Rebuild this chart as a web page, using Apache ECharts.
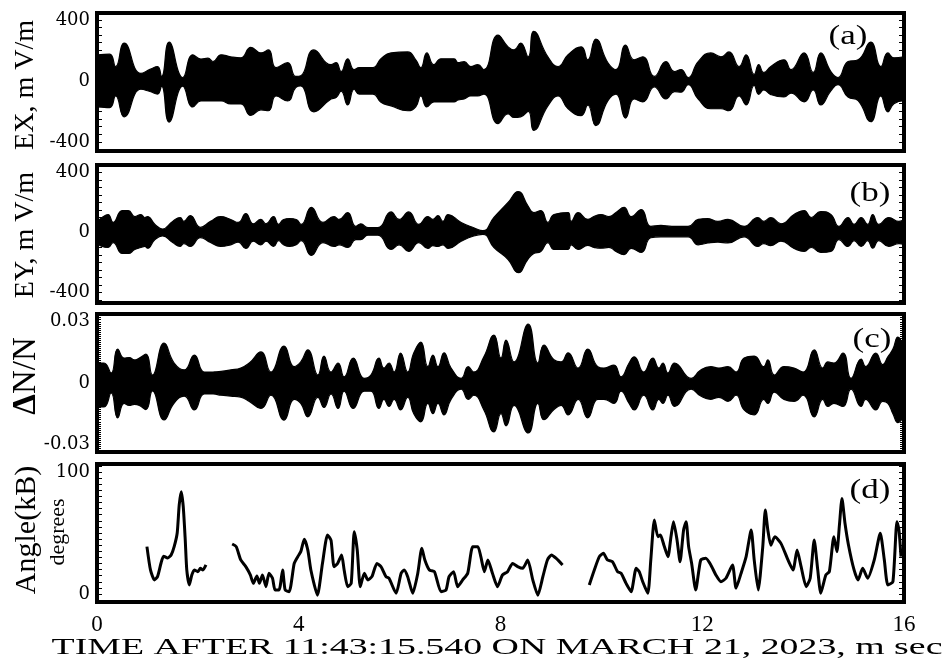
<!DOCTYPE html>
<html><head><meta charset="utf-8">
<script src="https://cdn.jsdelivr.net/npm/echarts@6/dist/echarts.min.js"></script>
<style>html,body{margin:0;padding:0;background:#fff}#c{width:948px;height:671px}</style>
</head><body><div id="c"></div>
<script>
// ---- Panel (a) EX envelope (time msec, upper / lower, mV/m) ----
const exT = [0,0.25,0.37,0.54,0.87,1.05,1.2,1.28,1.43,1.7,1.9,2.06,2.2,2.3,2.46,2.65,2.85,3.05,3.25,3.4,3.55,3.78,3.94,4.04,4.3,4.64,4.74,4.84,4.97,5.1,5.2,5.47,5.63,5.83,6.16,6.32,6.42,6.54,6.68,6.82,7.08,7.16,7.28,7.41,7.55,7.67,7.95,8.15,8.27,8.4,8.55,8.66,8.94,9.14,9.34,9.6,9.73,9.89,10.13,10.29,10.48,10.65,10.82,11.05,11.28,11.45,11.58,11.72,11.92,12.17,12.37,12.53,12.73,12.87,13.03,13.12,13.22,13.36,13.62,13.76,14.02,14.2,14.35,14.55,14.69,14.89,15.09,15.34,15.54,15.68,15.8,16];
const exHi = [170,175,94,248,49,75,94,30,254,22,171,143,149,127,171,158,151,220,183,203,87,119,29,33,203,106,119,61,145,74,87,87,145,183,190,138,87,183,106,145,145,119,126,94,106,74,300,223,203,248,158,325,158,94,171,223,138,274,119,74,235,138,158,29,126,61,74,22,126,183,158,190,94,171,42,106,55,94,138,74,183,55,183,61,22,126,138,254,94,183,151,158];
const exLo = [-170,-175,-99,-236,-55,-70,-87,-35,-270,-35,-171,-132,-132,-132,-132,-151,-151,-226,-190,-196,-99,-132,-44,-33,-203,-119,-110,-67,-158,-55,-87,-87,-140,-164,-196,-170,-99,-171,-138,-138,-138,-125,-119,-99,-99,-87,-280,-216,-240,-236,-200,-325,-164,-99,-183,-228,-160,-293,-130,-87,-244,-119,-138,-39,-119,-70,-74,-25,-120,-183,-183,-196,-99,-158,-29,-88,-60,-90,-106,-80,-138,-60,-158,-65,-25,-106,-130,-268,-99,-203,-150,-130];

// ---- Panel (b) EY envelope ----
const eyT = [0,0.1,0.22,0.32,0.5,0.62,0.75,0.87,0.95,1,1.15,1.3,1.5,1.65,1.72,1.85,2.05,2.25,2.45,2.65,2.8,2.95,3.1,3.25,3.35,3.5,3.6,3.7,3.82,3.95,4.05,4.25,4.48,4.7,4.8,4.97,5.13,5.23,5.37,5.57,5.83,5.99,6.18,6.38,6.56,6.66,6.76,6.86,6.96,7.22,7.47,7.65,7.87,8.15,8.35,8.55,8.66,8.8,8.94,9.06,9.34,9.4,9.54,9.73,9.85,9.99,10.15,10.29,10.45,10.59,10.79,10.98,11.18,11.4,11.72,11.92,12.11,12.31,12.51,12.83,13.1,13.22,13.36,13.56,13.82,14.02,14.16,14.35,14.55,14.71,14.89,15.01,15.15,15.28,15.38,15.5,15.7,15.9,16];
const eyHi = [70,100,120,67,146,146,106,120,100,106,54,23,74,100,74,113,34,74,106,87,67,126,58,87,58,106,54,87,93,87,54,167,67,106,87,133,41,58,32,32,137,87,137,54,106,87,113,74,120,67,32,12,100,200,273,175,133,146,67,120,133,74,133,87,106,120,106,133,167,106,153,41,47,41,41,87,93,74,87,41,100,74,100,58,120,146,100,140,120,41,100,54,100,54,120,54,100,74,87];
const eyLo = [-70,-93,-100,-67,-140,-140,-113,-100,-93,-105,-47,-23,-67,-93,-74,-93,-34,-67,-93,-82,-64,-106,-58,-82,-58,-93,-54,-82,-93,-82,-54,-153,-67,-93,-82,-100,-47,-47,-18,-18,-113,-82,-126,-67,-106,-88,-93,-82,-106,-58,-23,-12,-100,-180,-268,-175,-140,-126,-67,-113,-113,-82,-113,-86,-99,-105,-99,-126,-147,-106,-133,-35,-29,-29,-29,-82,-70,-64,-70,-29,-93,-74,-88,-58,-106,-126,-100,-133,-126,-47,-93,-54,-93,-54,-105,-54,-93,-74,-82];

// ---- Panel (c) dN/N envelope ----
const dnT = [0,0.14,0.28,0.41,0.54,0.64,0.74,0.84,0.97,1.1,1.33,1.53,1.73,1.93,2.13,2.3,2.46,2.65,2.85,3.02,3.25,3.45,3.71,3.91,4.04,4.18,4.38,4.5,4.64,4.78,4.9,5.08,5.3,5.43,5.59,5.69,5.79,5.89,6.02,6.16,6.28,6.42,6.56,6.66,6.76,6.88,7.02,7.22,7.36,7.47,7.67,7.87,8.01,8.11,8.27,8.55,8.74,8.86,9.06,9.2,9.34,9.54,9.73,9.93,10.05,10.25,10.39,10.55,10.65,10.84,11.02,11.14,11.22,11.32,11.45,11.78,11.97,12.17,12.33,12.51,12.67,12.83,13.03,13.22,13.3,13.43,13.62,13.82,14,14.22,14.39,14.49,14.61,14.79,14.95,15.15,15.24,15.44,15.58,15.68,15.78,15.88,16];
const dnHi = [0.0098,0.0098,0.0049,0.0166,0.0122,0.0125,0.0113,0.0122,0.0141,0.0039,0.0195,0.0098,0.0064,0.0137,0.0054,0.0054,0.0057,0.0064,0.0073,0.0098,0.0152,0.0054,0.0181,0.0080,0.0103,0.0162,0.0039,0.0132,0.0054,0.0098,0.0030,0.0122,0.0023,0.0039,0.0122,0.0073,0.0098,0.0054,0.0147,0.0054,0.0147,0.0200,0.0080,0.0137,0.0080,0.0148,0.0073,0.0023,0.0080,0.0054,0.0128,0.0235,0.0122,0.0210,0.0103,0.0288,0.0098,0.0186,0.0114,0.0103,0.0148,0.0073,0.0166,0.0080,0.0073,0.0088,0.0030,0.0098,0.0128,0.0054,0.0122,0.0073,0.0098,0.0049,0.0098,0.0023,0.0064,0.0080,0.0073,0.0080,0.0054,0.0122,0.0132,0.0080,0.0114,0.0039,0.0080,0.0073,0.0054,0.0162,0.0073,0.0103,0.0098,0.0147,0.0023,0.0117,0.0080,0.0147,0.0090,0.0128,0.0166,0.0225,0.0171];
const dnLo = [-0.0117,-0.0117,-0.0049,-0.0171,-0.0100,-0.0110,-0.0105,-0.0110,-0.0130,-0.0039,-0.0181,-0.0098,-0.0064,-0.0132,-0.0054,-0.0054,-0.0060,-0.0064,-0.0070,-0.0090,-0.0125,-0.0060,-0.0182,-0.0080,-0.0100,-0.0166,-0.0070,-0.0120,-0.0054,-0.0125,-0.0040,-0.0125,-0.0040,-0.0040,-0.0125,-0.0080,-0.0115,-0.0080,-0.0132,-0.0070,-0.0150,-0.0190,-0.0100,-0.0150,-0.0100,-0.0156,-0.0080,-0.0030,-0.0080,-0.0060,-0.0132,-0.0240,-0.0150,-0.0210,-0.0110,-0.0245,-0.0100,-0.0180,-0.0130,-0.0110,-0.0156,-0.0080,-0.0171,-0.0080,-0.0080,-0.0100,-0.0040,-0.0100,-0.0132,-0.0060,-0.0132,-0.0080,-0.0100,-0.0060,-0.0115,-0.0030,-0.0064,-0.0080,-0.0070,-0.0090,-0.0060,-0.0132,-0.0156,-0.0080,-0.0100,-0.0045,-0.0080,-0.0090,-0.0060,-0.0166,-0.0080,-0.0115,-0.0100,-0.0115,-0.0030,-0.0115,-0.0080,-0.0132,-0.0090,-0.0100,-0.0150,-0.0194,-0.0160];

// ---- Panel (d) Angle(kB), degrees: three segments [time, angle] ----
const angleSeg1 = [[0.99,38.8],[1.06,19.7],[1.14,11.5],[1.2,14.2],[1.27,25.4],[1.32,31],[1.4,29.5],[1.47,32],[1.53,38.8],[1.59,50],[1.63,73],[1.67,83.9],[1.71,71.6],[1.75,44],[1.78,19.7],[1.83,7.4],[1.88,15.6],[1.93,19.7],[2.0,18.3],[2.05,21],[2.1,19.7],[2.16,23.8]];
const angleSeg2 = [[2.68,41],[2.76,38.8],[2.85,27.9],[2.95,22.4],[3.04,15.6],[3.1,8.7],[3.17,14.8],[3.22,8.7],[3.28,15.6],[3.35,6],[3.41,17],[3.48,12.9],[3.53,3.3],[3.61,3.3],[3.68,19.7],[3.73,3.3],[3.81,1.9],[3.91,25],[3.98,30.6],[4.04,34.7],[4.11,44.8],[4.18,36],[4.24,19.7],[4.37,-1],[4.47,25],[4.57,48.4],[4.64,44],[4.7,22.4],[4.77,25],[4.85,32],[4.9,19.7],[4.97,6],[5.04,8.7],[5.1,51],[5.16,36],[5.22,6],[5.3,17],[5.37,11.5],[5.45,14.2],[5.55,25],[5.63,22.4],[5.73,14.2],[5.79,12.9],[5.93,0.6],[6.03,17],[6.09,19.7],[6.16,14.2],[6.26,0.5],[6.36,17],[6.44,37.5],[6.5,27.9],[6.59,19.7],[6.69,18.3],[6.82,1.9],[6.92,3.3],[6.98,14.2],[7.07,18.3],[7.15,6],[7.25,11.5],[7.35,17],[7.45,38.8],[7.55,38.8],[7.61,30.6],[7.68,18.3],[7.75,27.9],[7.84,17],[7.94,6],[8.04,15.6],[8.14,18.3],[8.24,25],[8.34,22.4],[8.44,21],[8.54,27.9],[8.64,11.5],[8.74,-1],[8.84,14.2],[8.93,27.9],[9.01,32],[9.1,29.3],[9.23,23.8]];
const angleSeg3 = [[9.76,7.4],[9.86,19.7],[9.96,30.6],[10.04,33.3],[10.12,27.9],[10.22,26.5],[10.32,18.3],[10.39,17],[10.49,8.7],[10.59,1.9],[10.69,21],[10.75,18.3],[10.82,10],[10.92,0.5],[10.98,27.9],[11.05,60.7],[11.12,47],[11.17,48.4],[11.24,40],[11.32,30.6],[11.38,47],[11.43,59.3],[11.5,44.3],[11.56,26.5],[11.63,52.5],[11.68,59.3],[11.73,38.8],[11.79,25],[11.87,3.3],[11.97,27.9],[12.07,29.3],[12.17,23.8],[12.27,15.6],[12.37,10],[12.47,12.9],[12.6,23.8],[12.67,4.7],[12.77,17],[12.87,30.6],[12.97,52.5],[13.03,27.9],[13.11,3.3],[13.2,38.8],[13.25,68.9],[13.3,52.5],[13.36,40],[13.44,47],[13.56,41.5],[13.7,27.9],[13.8,19.7],[13.88,36],[13.96,22.4],[14.06,6],[14.14,12.9],[14.22,44.3],[14.29,19.7],[14.35,0.6],[14.45,15.6],[14.52,18.3],[14.61,47],[14.67,34.7],[14.72,56.6],[14.77,78.4],[14.83,58],[14.9,40],[15.01,19.7],[15.09,11.5],[15.18,21],[15.28,12.9],[15.41,27.9],[15.53,49.7],[15.61,27.9],[15.68,7.4],[15.78,10],[15.86,59.3],[15.9,52.5],[15.94,30.6]];

// ---- tick labels ----
const xLabels = [0,4,8,12,16];
const exLabels = [-400,0,400];
const eyLabels = [-400,0,400];
const dnLabels = [-0.03,0,0.03];
const angLabels = [0,100];
const xTicksB = [1,2,3,4,5,6,7,8,9,10,11,12,13,14,15];
const xTicksC = [5,10,15];
const exTicks = [-450,-400,-350,-300,-250,-200,-150,-100,-50,0,50,100,150,200,250,300,350,400];
const eyTicks = [-450,-400,-350,-300,-250,-200,-150,-100,-50,0,50,100,150,200,250,300,350,400];
const angTicks = [-5,0,5,10,15,20,25,30,35,40,45,50,55,60,65,70,75,80,85,90,95,100,105];
const dnTicks = [];
for (let k = -33; k <= 33; k++) dnTicks.push(k / 1000);

const FONT = '"Liberation Serif", "Times New Roman", serif';
const TICKFONT = '"DejaVu Serif", serif';
const chart = echarts.init(document.getElementById('c'), null, {renderer: 'canvas'});

const tops = [13, 165, 314, 464];
const grid = tops.map(t => ({left: 97, right: 44, top: t, height: 138, show: true,
  borderColor: '#000', borderWidth: 4, backgroundColor: 'rgba(0,0,0,0)', containLabel: false, outerBoundsMode: 'none'}));

const yRanges = [[-460, 445], [-470, 450], [-0.0338, 0.0338], [-6.6, 106.6]];
const yLabelSets = [exLabels, eyLabels, dnLabels, angLabels];
const yTickSets = [exTicks, eyTicks, dnTicks, angTicks];
const tickStyle = {color: '#000', width: 1};
const yAxis = [];
['left', 'right'].forEach(pos => {
  for (let i = 0; i < 4; i++) {
    yAxis.push({
      type: 'value', gridIndex: i, position: pos, min: yRanges[i][0], max: yRanges[i][1],
      axisLine: {show: false}, splitLine: {show: false},
      axisTick: {show: true, inside: true, length: i === 2 ? 4 : 5, customValues: yTickSets[i], lineStyle: tickStyle},
      axisLabel: {show: pos === 'left', customValues: yLabelSets[i], fontFamily: TICKFONT, fontSize: 18, color: '#000', margin: 7,
        showMinLabel: true, showMaxLabel: true,
        formatter: v => (i === 2 ? (v === 0 ? '0' : v.toFixed(2)) : String(v))}
    });
  }
});

const xAxis = [0, 1, 2, 3].map(i => ({
  type: 'value', gridIndex: i, min: 0, max: 16,
  axisLine: {show: false}, splitLine: {show: false},
  axisTick: {show: i === 1 || i === 2, inside: true, length: 5, customValues: i === 1 ? xTicksB : xTicksC, lineStyle: tickStyle},
  axisLabel: {show: i === 3, customValues: xLabels, fontFamily: FONT, fontSize: 23, color: '#000', margin: 11,
    showMinLabel: true, showMaxLabel: true}
}));

const zeroLine = {silent: true, symbol: 'none', label: {show: false},
  lineStyle: {color: '#000', width: 3, type: 'solid'}, data: [{yAxis: 0}]};
function band(i, T, H, L) {
  const mk = (arr, withZero) => {
    const s = {
      type: 'line', xAxisIndex: i, yAxisIndex: i, smooth: 0.5, symbol: 'none', silent: true,
      lineStyle: {color: '#000', width: 1.2}, areaStyle: {color: '#000', opacity: 1, origin: 'auto'},
      data: T.map((t, k) => [t, arr[k]])
    };
    if (withZero) s.markLine = zeroLine;
    return s;
  };
  return [mk(H, true), mk(L, false)];
}
function angleLine(seg) {
  return {type: 'line', xAxisIndex: 3, yAxisIndex: 3, smooth: 0.2, symbol: 'none', silent: true,
    lineStyle: {color: '#000', width: 3, join: 'round'}, data: seg};
}

const series = [].concat(
  band(0, exT, exHi, exLo),
  band(1, eyT, eyHi, eyLo),
  band(2, dnT, dnHi, dnLo),
  [angleLine(angleSeg1), angleLine(angleSeg2), angleLine(angleSeg3)]
);

function txt(x, y, text, size, extra) {
  return Object.assign({type: 'text', x: x, y: y, z: 100,
    style: {text: text, fontFamily: FONT, fontSize: size, fill: '#000', align: 'center', verticalAlign: 'middle'}}, extra || {});
}
const R = Math.PI / 2;
const graphic = [
  txt(26, 85, 'EX, m V/m', 28, {rotation: R}),
  txt(26, 235, 'EY, m V/m', 28, {rotation: R}),
  {type: 'text', x: 26, y: 376, z: 100, rotation: R,
    style: {text: '{d|Δ}N/N', fontFamily: FONT, fontSize: 33, fill: '#000', align: 'center', verticalAlign: 'middle',
      rich: {d: {fontFamily: FONT, fontSize: 33, fontWeight: 'bold', fill: '#000'}}}},
  txt(27, 530, 'Angle(kB)', 30, {rotation: R}),
  txt(58, 532, 'degrees', 22, {rotation: R}),
  txt(848, 37, '(a)', 28, {scaleX: 1.25}),
  txt(870, 194, '(b)', 28, {scaleX: 1.25}),
  txt(872, 340, '(c)', 28, {scaleX: 1.25}),
  txt(870, 491, '(d)', 28, {scaleX: 1.25}),
  txt(497, 648, 'TIME AFTER 11:43:15.540 ON MARCH 21, 2023, m sec', 23, {scaleX: 1.645})
];

chart.setOption({
  animation: false,
  backgroundColor: '#fff',
  grid: grid, xAxis: xAxis, yAxis: yAxis, series: series, graphic: graphic
});
</script>
</body></html>
